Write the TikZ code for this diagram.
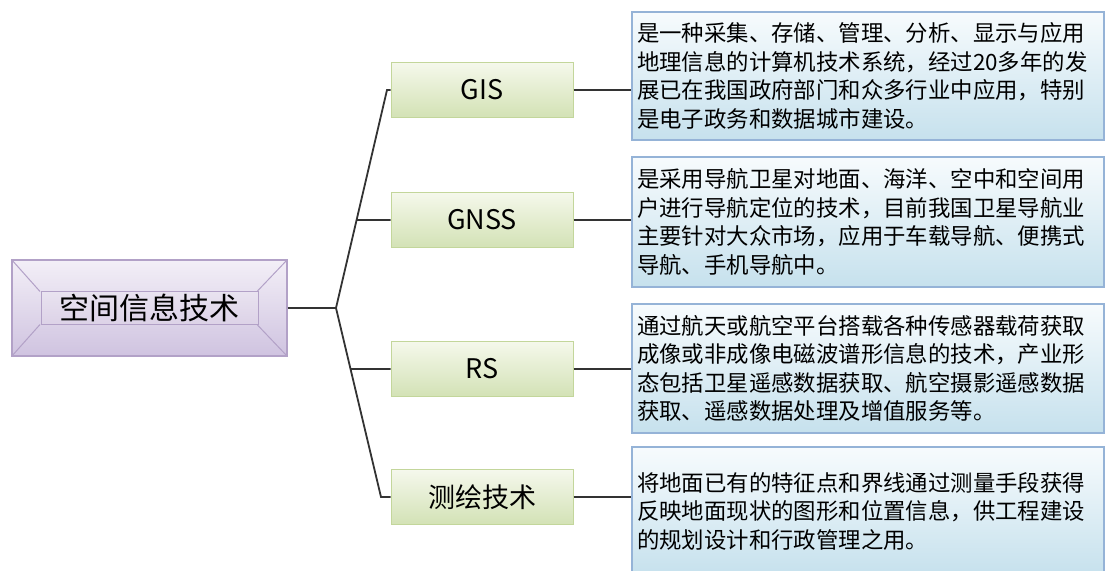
\documentclass[tikz,border=0pt]{standalone}
\usepackage{fontspec}
\newfontfamily\cjk{Noto Sans CJK SC}
\definecolor{rootline}{HTML}{B2A1C7}
\definecolor{roottop}{HTML}{F3EFF7}
\definecolor{rootbot}{HTML}{CFC3E0}
\definecolor{facetop}{HTML}{E9E3F0}
\definecolor{facebot}{HTML}{DCD2E7}
\definecolor{brline}{HTML}{C3D69B}
\definecolor{brtop}{HTML}{F5F8EC}
\definecolor{brbot}{HTML}{D3E2B5}
\definecolor{dline}{HTML}{95B3D7}
\definecolor{dtop}{HTML}{F7FBFD}
\definecolor{dbot}{HTML}{C6E1ED}
\begin{document}
\begin{tikzpicture}[x=1pt, y=-1pt,
  rootbox/.style = {draw=rootline, line width=1.2pt, top color=roottop,
                    bottom color=rootbot, minimum width=275pt, minimum height=96pt},
  rootface/.style = {draw=rootline, line width=1pt, top color=facetop,
                     bottom color=facebot, minimum width=217pt, minimum height=33pt,
                     inner sep=0pt, font=\cjk\fontsize{30}{32}\selectfont},
  branch/.style = {draw=brline, line width=1pt, top color=brtop, bottom color=brbot,
                   minimum width=182pt, minimum height=55pt,
                   font=\cjk\fontsize{27}{30}\selectfont},
  desc/.style = {draw=dline, line width=1.2pt, top color=dtop, bottom color=dbot,
                 minimum width=472pt, text width=462pt, align=left, inner xsep=5pt,
                 font=\cjk\fontsize{22.4}{28.5}\selectfont},
  conn/.style = {line width=1.8pt, black!80}
]
  \useasboundingbox (0,0) rectangle (1105,570);

  % Root
  \node[rootbox] (root) at (149.5, 308) {};
  \draw[rootline, line width=1pt] (root.north west) -- (40, 291.5);
  \draw[rootline, line width=1pt] (root.north east) -- (257, 291.5);
  \draw[rootline, line width=1pt] (root.south west) -- (40, 324.5);
  \draw[rootline, line width=1pt] (root.south east) -- (257, 324.5);
  \node[rootface] (rootin) at (root.center) {空间信息技术};

  % Branches
  \node[branch] (gis)  at (482, 90)  {GIS};
  \node[branch] (gnss) at (482, 220) {GNSS};
  \node[branch] (rs)   at (482, 369) {RS};
  \node[branch] (sur)  at (482, 497) {测绘技术};

  % Descriptions
  \node[desc, minimum height=128pt] (dgis) at (868, 76)
    {是一种采集、存储、管理、分析、显示与应用\\地理信息的计算机技术系统，经过20多年的发\\展已在我国政府部门和众多行业中应用，特别\\是电子政务和数据城市建设。};
  \node[desc, minimum height=130pt] (dgnss) at (868, 222)
    {是采用导航卫星对地面、海洋、空中和空间用\\户进行导航定位的技术，目前我国卫星导航业\\主要针对大众市场，应用于车载导航、便携式\\导航、手机导航中。};
  \node[desc, minimum height=129pt] (drs) at (868, 368.5)
    {通过航天或航空平台搭载各种传感器载荷获取\\成像或非成像电磁波谱形信息的技术，产业形\\态包括卫星遥感数据获取、航空摄影遥感数据\\获取、遥感数据处理及增值服务等。};
  \node[desc, minimum height=128pt] (dsur) at (868, 511)
    {将地面已有的特征点和界线通过测量手段获得\\反映地面现状的图形和位置信息，供工程建设\\的规划设计和行政管理之用。};

  % Tree connectors
  \coordinate (j)  at (336, 308);
  \coordinate (jt) at (387, 90);
  \coordinate (jb) at (381, 497);
  \draw[conn] (root.east) -- (j);
  \draw[conn] (j) -- (jt) -- (gis.west);
  \draw[conn] (j) -- (jb) -- (sur.west);
  \draw[conn] (intersection of j--jt and gnss.west--gnss.east) -- (gnss.west);
  \draw[conn] (intersection of j--jb and rs.west--rs.east) -- (rs.west);

  % Branch to description
  \draw[conn] (gis.east)  -- (gis.east -| dgis.west);
  \draw[conn] (gnss.east) -- (gnss.east -| dgnss.west);
  \draw[conn] (rs.east)   -- (rs.east -| drs.west);
  \draw[conn] (sur.east)  -- (sur.east -| dsur.west);

\end{tikzpicture}
\end{document}
